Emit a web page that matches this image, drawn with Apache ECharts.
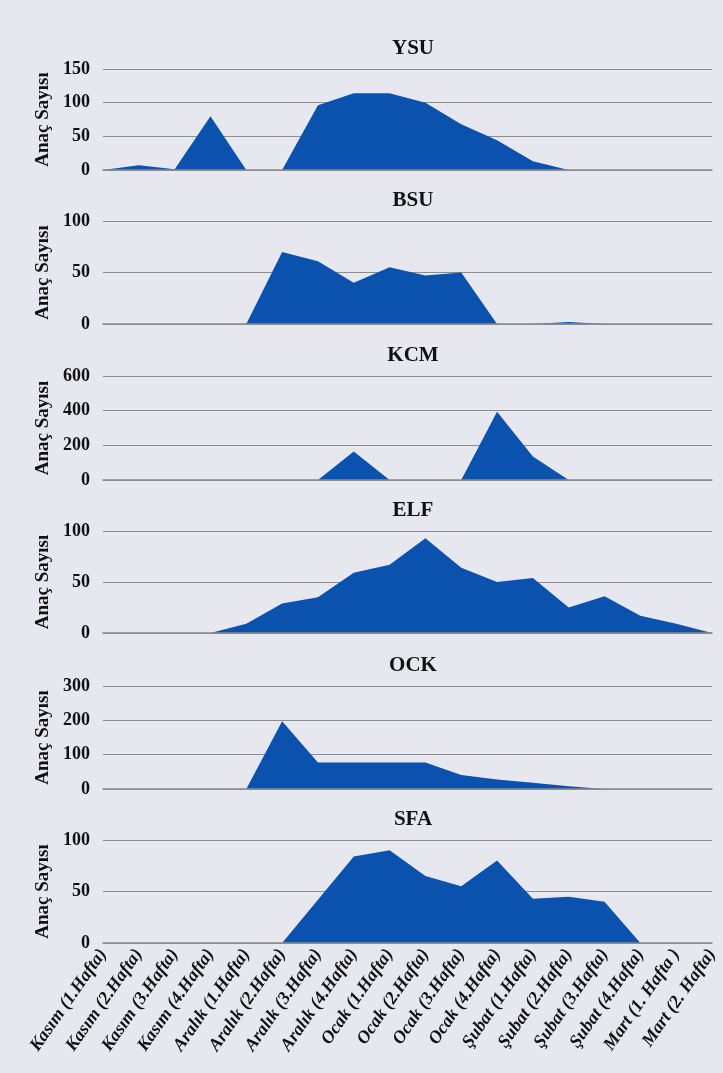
<!DOCTYPE html>
<html>
<head>
<meta charset="utf-8">
<script src="https://cdn.jsdelivr.net/npm/echarts@6/dist/echarts.min.js"></script>
<style>
  html, body { margin: 0; padding: 0; background: #e7e7ef; }
  #main { width: 723px; height: 1073px; }
</style>
</head>
<body>
<div id="main"></div>
<script>
// haftalar
var weeks = [
  "Kasım (1.Hafta)", "Kasım (2.Hafta)", "Kasım (3.Hafta)", "Kasım (4.Hafta)",
  "Aralık (1.Hafta)", "Aralık (2.Hafta)", "Aralık (3.Hafta)", "Aralık (4.Hafta)",
  "Ocak (1.Hafta)", "Ocak (2.Hafta)", "Ocak (3.Hafta)", "Ocak (4.Hafta)",
  "Şubat (1.Hafta)", "Şubat (2.Hafta)", "Şubat (3.Hafta)", "Şubat (4.Hafta)",
  "Mart (1. Hafta )", "Mart (2. Hafta)"
];
var names = ["YSU", "BSU", "KCM", "ELF", "OCK", "SFA"];

var ysu = [0, 7, 1, 80, 0, 0, 96, 114, 114, 100, 68, 44, 13, 0, 0, 0, 0, 0];
var bsu = [0, 0, 0, 0, 0, 70, 61, 40, 55, 47, 50, 0, 0, 2, 0, 0, 0, 0];
var kcm = [0, 0, 0, 0, 0, 0, 0, 165, 0, 0, 0, 394, 136, 0, 0, 0, 0, 0];
var elf = [0, 0, 0, 0, 9, 29, 35, 59, 67, 93, 64, 50, 54, 25, 36, 17, 9, 0];
var ock = [0, 0, 0, 0, 0, 197, 77, 77, 77, 77, 41, 28, 18, 8, 0, 0, 0, 0];
var sfa = [0, 0, 0, 0, 0, 0, 42, 84, 90, 65, 55, 80, 43, 45, 40, 0, 0, 0];

var yMax = [150, 100, 600, 100, 300, 100];
var yStep = [50, 50, 200, 50, 100, 50];

var allData = [ysu, bsu, kcm, elf, ock, sfa];
var gridTop = [69, 221, 376, 531, 686, 840];
var gridH = [101, 103, 104, 102, 103, 103];

var serif = "'Liberation Serif', 'DejaVu Serif', serif";
var blue = "#0a52ad";

var option = {
  backgroundColor: "#e7e7ef",
  title: [],
  grid: [],
  xAxis: [],
  yAxis: [],
  series: []
};

for (var i = 0; i < 6; i++) {
  option.title.push({
    text: names[i],
    left: 408,
    textAlign: "center",
    top: gridTop[i] - 36,
    textStyle: { fontFamily: serif, fontWeight: "bold", fontSize: 21, color: "#111" }
  });
  option.grid.push({ left: 103, right: 11, top: gridTop[i], height: gridH[i] });
  option.xAxis.push({
    type: "category",
    gridIndex: i,
    data: weeks,
    boundaryGap: false,
    axisLine: { show: true, lineStyle: { color: "#8c8c8c", width: 1.5 } },
    axisTick: { show: false },
    axisLabel: i == 5 ? {
      show: true,
      interval: 0,
      rotate: 55,
      margin: 8,
      fontFamily: serif,
      fontWeight: "bold",
      fontStyle: "italic",
      fontSize: 18,
      color: "#111"
    } : { show: false },
    z: 5
  });
  option.yAxis.push({
    type: "value",
    gridIndex: i,
    min: 0,
    max: yMax[i],
    interval: yStep[i],
    name: "Anaç Sayısı",
    nameLocation: "middle",
    nameRotate: 90,
    nameGap: 50,
    nameTextStyle: { fontFamily: serif, fontWeight: "bold", fontSize: 19, color: "#111" },
    axisLine: { show: false },
    axisTick: { show: false },
    axisLabel: { fontFamily: serif, fontWeight: "bold", fontSize: 18, color: "#111", margin: 13 },
    splitLine: { lineStyle: { color: "#8c8c8c", width: 1.2 } }
  });
  option.series.push({
    type: "line",
    name: names[i],
    xAxisIndex: i,
    yAxisIndex: i,
    data: allData[i],
    symbol: "none",
    lineStyle: { width: 0, color: blue },
    areaStyle: { color: blue, opacity: 1 },
    z: 3
  });
}

var myChart = echarts.init(document.getElementById("main"));
myChart.setOption(option);
</script>
</body>
</html>
